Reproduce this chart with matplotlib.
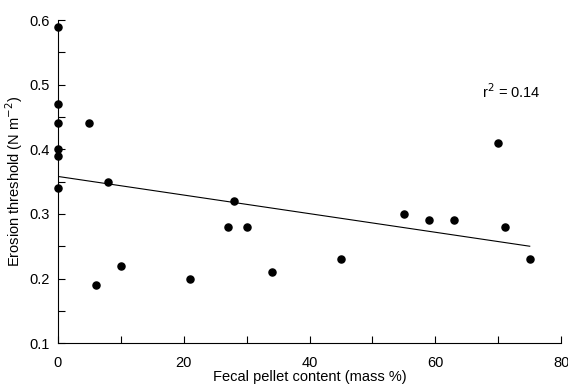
import matplotlib
matplotlib.use("Agg")
import matplotlib.pyplot as plt
from matplotlib.ticker import MultipleLocator
import numpy as np

plt.rcParams['font.family'] = ['Liberation Sans', 'DejaVu Sans']

fecal = [0, 0, 0, 0, 0, 0, 5, 6, 8, 10, 21, 27, 28, 30, 34, 45, 55, 59, 63, 70, 71, 75]
erosion = [0.59, 0.47, 0.44, 0.40, 0.39, 0.34, 0.44, 0.19, 0.35, 0.22, 0.20, 0.28, 0.32,
           0.28, 0.21, 0.23, 0.30, 0.29, 0.29, 0.41, 0.28, 0.23]
fit_intercept = 0.358
fit_slope = -0.00144
fit_x = [0, 75]
r2_label = "r$^2$ = 0.14"

fs = 10.5
fig = plt.figure(figsize=(5.68, 3.86), dpi=100)
ax = fig.add_axes([0.102, 0.111, 0.886, 0.837])

ax.scatter(fecal, erosion, s=26, color='black', zorder=3, clip_on=False)
fx = np.array(fit_x)
ax.plot(fx, fit_intercept + fit_slope * fx, color='black', lw=0.8)

ax.set_xlim(0, 80)
ax.set_ylim(0.1, 0.6)
ax.xaxis.set_major_locator(MultipleLocator(20))
ax.xaxis.set_minor_locator(MultipleLocator(10))
ax.yaxis.set_major_locator(MultipleLocator(0.1))
ax.yaxis.set_minor_locator(MultipleLocator(0.05))
ax.tick_params(which='both', direction='in', labelsize=fs, width=0.8, length=5)
ax.tick_params(axis='x', pad=9)
ax.tick_params(axis='y', pad=6)
ax.spines['top'].set_visible(False)
ax.spines['right'].set_visible(False)
ax.yaxis.set_major_formatter(plt.FuncFormatter(lambda v, p: f"{v:.1f}"))

ax.set_xlabel("Fecal pellet content (mass %)", fontsize=fs, labelpad=0)
ax.set_ylabel("Erosion threshold (N m$^{-2}$)", fontsize=fs, labelpad=3)
ax.text(67.4, 0.49, r2_label, fontsize=fs, va='center', ha='left')

fig.savefig("out.png", dpi=100)
